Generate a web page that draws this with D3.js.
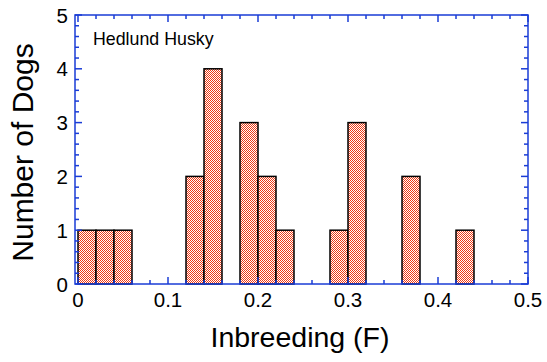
<!DOCTYPE html>
<html><head><meta charset="utf-8">
<script src="https://cdn.jsdelivr.net/npm/d3@7"></script>
<style>html,body{margin:0;padding:0;background:#fff;}svg{display:block;font-family:"Liberation Sans",Arial,Helvetica,sans-serif;}</style>
</head><body>
<svg id="c" width="547" height="362"></svg>
<script>
const binStarts = [0, 0.02, 0.04, 0.12, 0.14, 0.18, 0.20, 0.22, 0.28, 0.30, 0.36, 0.42];
const counts    = [1, 1, 1, 2, 4, 3, 2, 1, 1, 3, 2, 1];
const binWidth = 0.02;
const xTicks = [0, 0.1, 0.2, 0.3, 0.4, 0.5];
const xTickLabels = ["0", "0.1", "0.2", "0.3", "0.4", "0.5"];
const yTicks = [0, 1, 2, 3, 4, 5];
const yTickLabels = ["0", "1", "2", "3", "4", "5"];
const title = "Hedlund Husky";
const xTitle = "Inbreeding (F)";
const yTitle = "Number of Dogs";

const svg = d3.select("#c");
const blue = "#1a3cd6";
const x = d3.scaleLinear().domain([0, 0.5]).range([78, 528]);
const y = d3.scaleLinear().domain([0, 5]).range([284, 15]);
const frameL = 75;

const defs = svg.append("defs");
const pat = defs.append("pattern").attr("id", "chk").attr("patternUnits", "userSpaceOnUse")
  .attr("width", 2).attr("height", 2);
pat.append("rect").attr("width", 2).attr("height", 2).attr("fill", "#ffffff");
pat.append("rect").attr("x", 0).attr("y", 0).attr("width", 1).attr("height", 1).attr("fill", "#f03a14");
pat.append("rect").attr("x", 1).attr("y", 1).attr("width", 1).attr("height", 1).attr("fill", "#f03a14");

// bars
svg.append("g").selectAll("rect").data(binStarts).join("rect")
  .attr("x", d => x(d))
  .attr("y", (d, i) => y(counts[i]))
  .attr("width", d => x(d + binWidth) - x(d))
  .attr("height", (d, i) => y(0) - y(counts[i]))
  .attr("fill", "url(#chk)")
  .attr("stroke", "#000").attr("stroke-width", 1.5);

// frame
const g = svg.append("g").attr("stroke", blue).attr("stroke-width", 1.5).attr("fill", "none");
g.append("rect").attr("x", frameL).attr("y", y(5)).attr("width", x(0.5) - frameL).attr("height", y(0) - y(5));

// x ticks
const xMinor = d3.range(0, 26).map(i => i * 0.02);
xMinor.forEach(v => {
  const major = Math.abs(v * 10 - Math.round(v * 10)) < 1e-6;
  const len = major ? 7 : 4;
  g.append("line").attr("x1", x(v)).attr("x2", x(v)).attr("y1", y(0)).attr("y2", y(0) - len);
  g.append("line").attr("x1", x(v)).attr("x2", x(v)).attr("y1", y(5)).attr("y2", y(5) + len);
});
// y ticks
const yMinor = d3.range(0, 26).map(i => i * 0.2);
yMinor.forEach(v => {
  const major = Math.abs(v - Math.round(v)) < 1e-6;
  const len = major ? 7 : 4;
  g.append("line").attr("y1", y(v)).attr("y2", y(v)).attr("x1", frameL).attr("x2", frameL + len);
  g.append("line").attr("y1", y(v)).attr("y2", y(v)).attr("x1", x(0.5)).attr("x2", x(0.5) - len);
});

// tick labels
svg.append("g").selectAll("text").data(xTicks).join("text")
  .attr("x", d => x(d)).attr("y", 307).attr("text-anchor", "middle")
  .attr("font-size", 20.5).attr("fill", "#000").text((d, i) => xTickLabels[i]);
svg.append("g").selectAll("text").data(yTicks).join("text")
  .attr("x", 68).attr("y", d => y(d) + 7.5).attr("text-anchor", "end")
  .attr("font-size", 20.5).attr("fill", "#000").text((d, i) => yTickLabels[i]);

// titles
svg.append("text").attr("x", 93).attr("y", 45).attr("font-size", 17.8).attr("fill", "#000").text(title);
svg.append("text").attr("x", 300).attr("y", 347).attr("text-anchor", "middle")
  .attr("font-size", 28.5).attr("fill", "#000").text(xTitle);
svg.append("text").attr("transform", "translate(33," + ((y(0) + y(5)) / 2 + 3) + ") rotate(-90)")
  .attr("text-anchor", "middle").attr("font-size", 30).attr("fill", "#000").text(yTitle);
</script>
</body></html>
